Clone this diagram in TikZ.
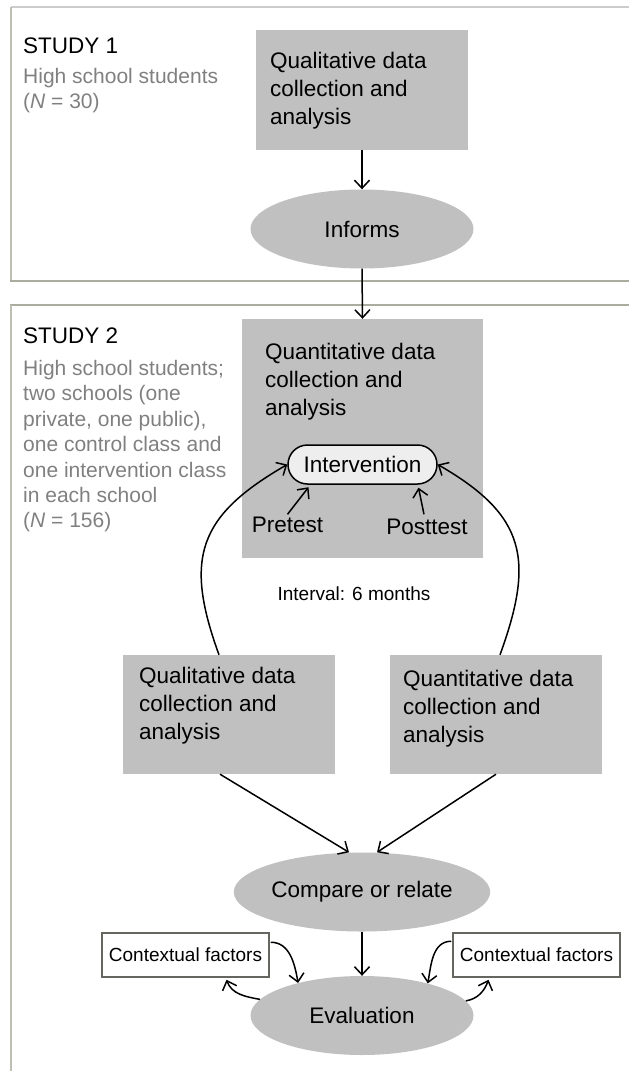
\documentclass[tikz,border=0pt]{standalone}
\usepackage{fontspec}
\setmainfont{Liberation Sans}
\usetikzlibrary{arrows.meta,shapes.geometric,shapes.misc,calc}
\definecolor{boxgray}{HTML}{C0C0C0}
\definecolor{intfill}{HTML}{EEEEEE}
\definecolor{txtgray}{HTML}{808080}
\definecolor{frameA}{HTML}{CCCCCC}
\definecolor{frameB}{HTML}{AAAC9F}
\definecolor{frameC}{HTML}{BEBFB5}
\definecolor{ctxborder}{HTML}{666661}
\tikzset{
  graybox/.style={fill=boxgray, draw=none, inner sep=0pt},
  boxtext/.style={font=\fontsize{22.5}{28}\selectfont, align=left, inner sep=0pt, anchor=north west},
  ell/.style={ellipse, fill=boxgray, draw=none, minimum width=223, minimum height=79, inner sep=0pt, font=\fontsize{22.5}{27}\selectfont},
  lbl/.style={font=\fontsize{22.5}{27}\selectfont, inner sep=2pt},
  studyhead/.style={font=\fontsize{22.5}{27}\selectfont, inner sep=0pt, anchor=base west},
  studytext/.style={font=\fontsize{21}{25.4}\selectfont, text=txtgray, align=left, inner sep=0pt, anchor=north west},
  ctxbox/.style={draw=ctxborder, line width=1.5pt, fill=white, minimum width=167, minimum height=44, inner sep=0pt, font=\fontsize{19}{23}\selectfont},
  arr/.style={line width=1.5pt, -{Straight Barb[length=8pt,width=15pt,line width=1.5pt]}},
}
\begin{document}
\begin{tikzpicture}[x=1pt,y=1pt]
\useasboundingbox (0,0) rectangle (629,-1071);
% frames
\draw[frameA, line width=1.5pt] (11,-7) -- (629,-7);
\draw[frameC, line width=2pt] (11,-7) -- (11,-281);
\draw[frameB, line width=2pt] (10,-280.5) -- (629,-280.5);
\draw[frameB, line width=2pt] (10,-305) -- (629,-305);
\draw[frameC, line width=2pt] (11,-305) -- (11,-1071);
% study texts
\node[studyhead] (s1) at (23,-53) {STUDY 1};
\node[studytext] (s1t) at (23,-68) {High school students\\(\textit{N} = 30)};
\node[studyhead] (s2) at (23,-343) {STUDY 2};
\node[studytext] (s2t) at (23,-360) {High school students;\\two schools (one\\private, one public),\\one control class and\\one intervention class\\in each school\\(\textit{N} = 156)};
% boxes
\node[graybox, minimum width=212, minimum height=120] (q1) at (362,-90) {};
\node[boxtext] (q1t) at (270,-51.9) {Qualitative data\\collection and\\analysis};
\node[ell] (inf) at (362,-229) {Informs};
\node[graybox, minimum width=241, minimum height=239] (q2) at (362.5,-438.5) {};
\node[boxtext] (q2t) at (265,-342.8) {Quantitative data\\collection and\\analysis};
\node[rounded rectangle, draw=black, line width=1.5pt, fill=intfill, minimum width=149, minimum height=39, inner sep=0pt, font=\fontsize{22.5}{27}\selectfont] (int) at (362.5,-464.5) {Intervention};
\node[lbl, anchor=base] (pre) at (287.5,-532) {Pretest};
\node[lbl, anchor=base] (post) at (427,-534) {Posttest};
\node[font=\fontsize{19}{23}\selectfont, anchor=base, inner sep=0pt] (ivl) at (354,-600) {Interval: 6 months};
\node[graybox, minimum width=212, minimum height=119] (ql) at (229,-714.5) {};
\node[boxtext] (qlt) at (139,-666.9) {Qualitative data\\collection and\\analysis};
\node[graybox, minimum width=212, minimum height=119] (qn) at (496,-714.5) {};
\node[boxtext] (qnt) at (403,-669.9) {Quantitative data\\collection and\\analysis};
\node[ell] (cmp) at (362,-892) {Compare or relate};
\node[ell] (ev) at (362,-1015.5) {Evaluation};
\node[ctxbox] (cl) at (185.5,-955) {Contextual factors};
\node[ctxbox] (cr) at (536.5,-955) {Contextual factors};
% connectors
\draw[arr] (q1.south) -- (inf.north);
\draw[arr] (inf.south) -- (q2.north);
\draw[arr] (pre.north) -- ($(int.south)+(-54,-2.5)$);
\draw[arr] ($(post.north)+(-3,2)$) -- ($(int.south)+(56,-3)$);
\draw[arr] ($(ql.north)+(-10,0)$) to[out=110,in=210,looseness=1.3] (int.west);
\draw[arr] ($(qn.north)+(4,0)$) to[out=70,in=-30,looseness=1.3] (int.east);
\draw[arr] ($(ql.south)+(-9,0)$) -- ($(cmp.north)+(-13,0)$);
\draw[arr] (qn.south) -- ($(cmp.north)+(15,0)$);
\draw[arr] (cmp.south) -- (ev.north);
\draw[arr] ($(cl.north east)+(1,-10)$) to[out=0,in=100] (ev.153);
\draw[arr] (ev.171) to[out=170,in=-70] ($(cl.south)+(41,-2)$);
\draw[arr] ($(cr.north west)+(-1,-9)$) to[out=180,in=80] (ev.26);
\draw[arr] (ev.8) to[out=10,in=-110] ($(cr.south)+(-48,-2)$);
\end{tikzpicture}
\end{document}
